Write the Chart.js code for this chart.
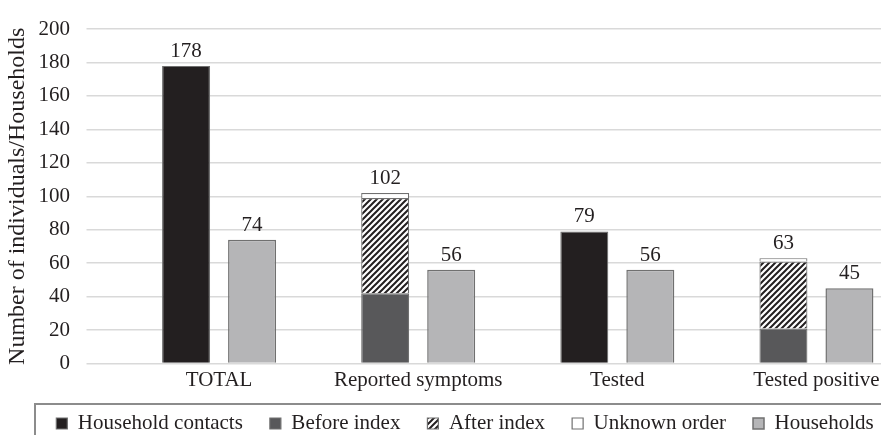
<!DOCTYPE html>
<html><head><meta charset="utf-8">
<script src="https://cdn.jsdelivr.net/npm/chart.js@4/dist/chart.umd.min.js"></script>
<style>html,body{margin:0;padding:0;overflow:hidden;background:#fff;width:881px;height:435px}
#wrap{position:relative;width:916px;height:435px}
#prime{position:absolute;left:-999px;top:0;font:21px "Liberation Serif";}</style></head>
<body><span id="prime">Household 0123456789</span><div id="wrap"><canvas id="c" width="916" height="435"></canvas></div>
<script>
const categories = ['TOTAL', 'Reported symptoms', 'Tested', 'Tested positive'];
const householdContacts = [178, null, 79, null];
const beforeIndex = [null, 42, null, 21];
const afterIndex = [null, 57, null, 40];
const unknownOrder = [null, 3, null, 2];
const households = [74, 56, 56, 45];
const yMin = 0, yMax = 200, yStep = 20;
const yTitle = 'Number of individuals/Households';

const TXT = '#231f20';
const FONT = '"Liberation Serif", "Times New Roman", "DejaVu Serif", serif';

function hatch(g0) {
  const c = document.createElement('canvas');
  c.width = 6; c.height = 6;
  const g = c.getContext('2d');
  g.fillStyle = '#fff'; g.fillRect(0, 0, 6, 6);
  g.strokeStyle = '#231f20'; g.lineWidth = 2;
  g.beginPath();
  g.moveTo(-1, 7); g.lineTo(7, -1);
  g.moveTo(-4, 4); g.lineTo(4, -4);
  g.moveTo(2, 10); g.lineTo(10, 2);
  g.stroke();
  return g0.createPattern(c, 'repeat');
}

const labelPlugin = {
  id: 'valLabels',
  afterDatasetsDraw(chart) {
    const c = chart.ctx;
    c.save();
    c.font = '21px ' + FONT;
    c.fillStyle = TXT;
    c.textAlign = 'center';
    c.textBaseline = 'alphabetic';
    const stacks = {};
    chart.data.datasets.forEach((ds, di) => {
      const meta = chart.getDatasetMeta(di);
      ds.data.forEach((v, i) => {
        if (v === null || v === undefined) return;
        const el = meta.data[i];
        const key = ds.stack + '_' + i;
        if (!stacks[key]) stacks[key] = {sum: 0, x: el.x, y: el.y};
        stacks[key].sum += v;
        stacks[key].y = Math.min(stacks[key].y, el.y);
      });
    });
    Object.values(stacks).forEach(s => {
      c.fillText(String(s.sum), s.x, s.y - 9);
    });
    c.restore();
  }
};

const boxPlugin = {
  id: 'legendBox',
  afterLayout(chart) {
    const lg = chart.legend;
    if (lg) { lg.top -= 5.5; lg.bottom -= 5.5; lg.left += 7; lg.right += 7; }
  },
  afterDraw(chart) {
    const c = chart.ctx;
    c.save();
    c.strokeStyle = '#8c8c8c';
    c.lineWidth = 2;
    c.strokeRect(35, 404, 1000, 100);
    c.restore();
  }
};

function build() {
  const ctx = document.getElementById('c').getContext('2d');
  const hatchPat = hatch(ctx);
  const BORDER = '#707070';
  new Chart(ctx, {
    type: 'bar',
    data: {
      labels: categories,
      datasets: [
        {label: 'Household contacts', data: householdContacts, stack: 'a', backgroundColor: '#231f20', borderColor: BORDER, borderWidth: 1.2},
        {label: 'Before index', data: beforeIndex, stack: 'a', backgroundColor: '#58585a', borderColor: BORDER, borderWidth: 1.2},
        {label: 'After index', data: afterIndex, stack: 'a', backgroundColor: hatchPat, borderColor: BORDER, borderWidth: 1.2},
        {label: 'Unknown order', data: unknownOrder, stack: 'a', backgroundColor: '#ffffff', borderColor: BORDER, borderWidth: 1.2},
        {label: 'Households', data: households, stack: 'b', backgroundColor: '#b5b5b7', borderColor: BORDER, borderWidth: 1.5}
      ]
    },
    options: {
      responsive: false,
      animation: false,
      layout: {padding: {top: 25, right: 0, left: 0, bottom: -14.5}},
      datasets: {bar: {categoryPercentage: 0.663, barPercentage: 0.727}},
      plugins: {
        tooltip: {enabled: false},
        legend: {
          position: 'bottom',
          labels: {
            color: TXT,
            font: {family: FONT, size: 21},
            boxWidth: 11, boxHeight: 11,
            padding: 27
          }
        }
      },
      scales: {
        x: {
          stacked: true,
          grid: {display: false, drawTicks: false},
          border: {display: false},
          ticks: {color: TXT, font: {family: FONT, size: 21}, padding: 4, maxRotation: 0, autoSkip: false},
          afterFit(s) { s.height = 28; }
        },
        y: {
          stacked: true,
          min: yMin, max: yMax,
          ticks: {stepSize: yStep, color: TXT, font: {family: FONT, size: 21}, padding: 16.5},
          grid: {color: '#d9d9d9', lineWidth: 1.5, drawTicks: true, tickLength: 33, tickColor: '#d9d9d9'},
          border: {display: false},
          title: {display: true, text: yTitle, color: TXT, font: {family: FONT, size: 24}, padding: {top: 3.6, bottom: 0}},
          afterFit(s) { s.width = 119.5; }
        }
      }
    },
    plugins: [labelPlugin, boxPlugin]
  });
}
if (document.fonts && document.fonts.load) {
  document.fonts.load('21px "Liberation Serif"').then(build, build);
} else build();
</script>
</body></html>
